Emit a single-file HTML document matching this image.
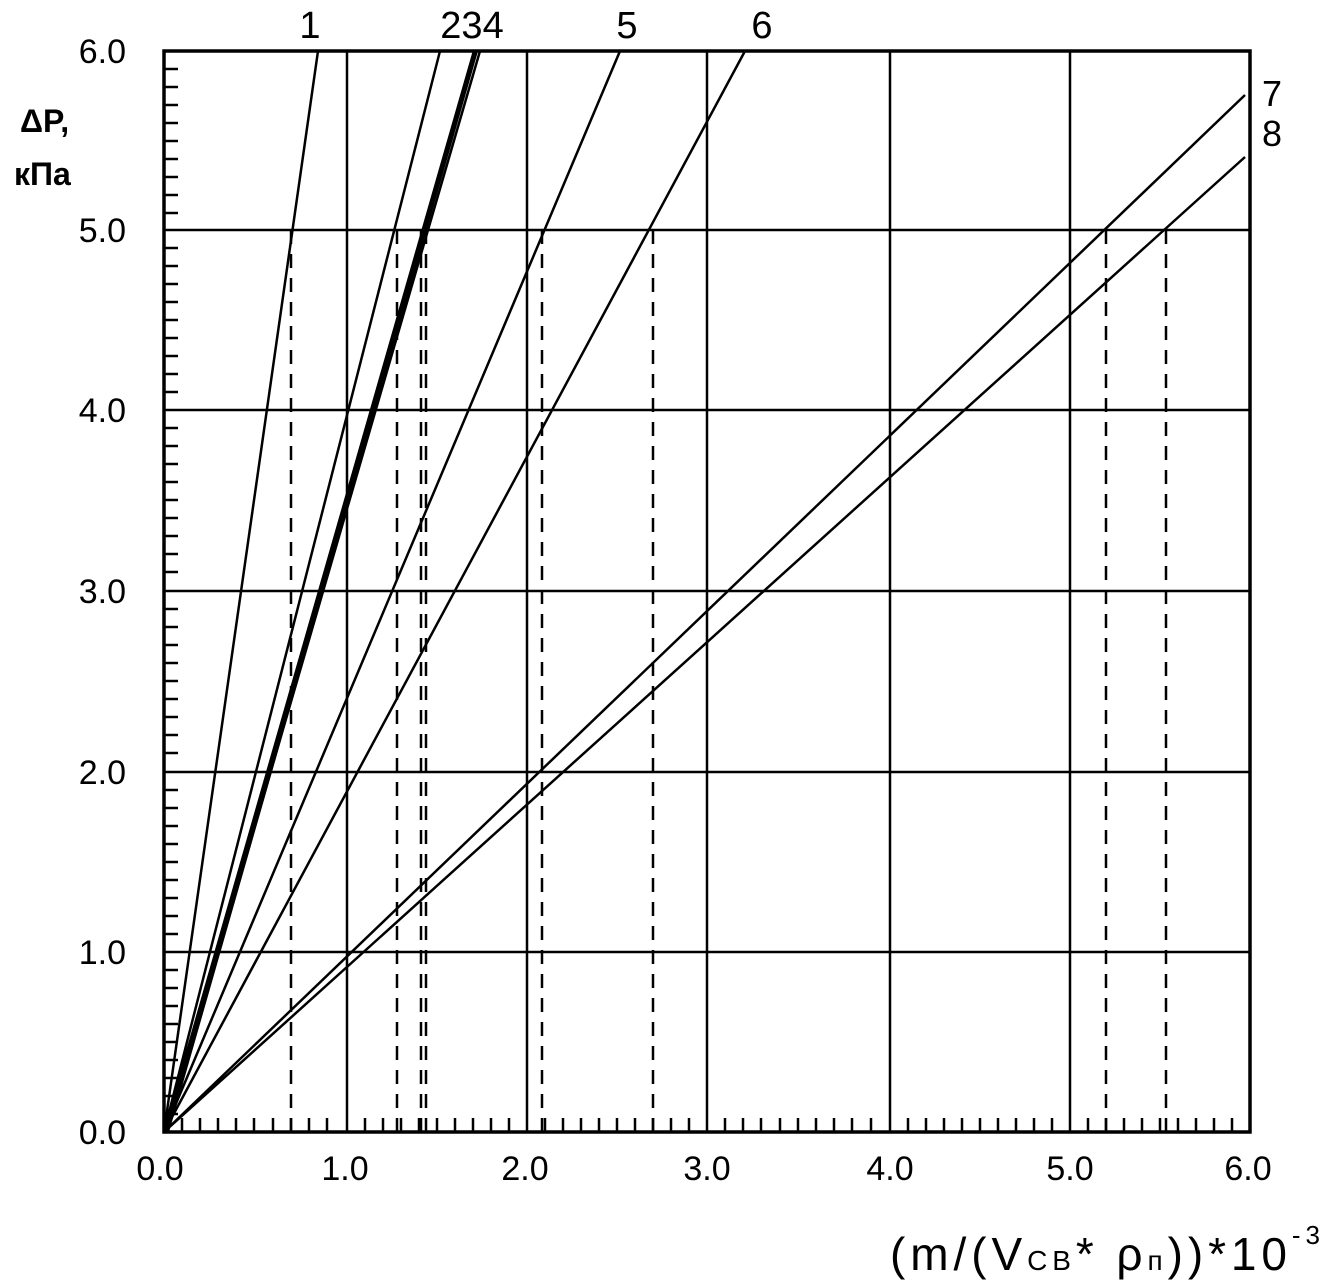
<!DOCTYPE html>
<html><head><meta charset="utf-8"><style>body{margin:0;background:#fff}svg{display:block}</style></head><body>
<svg width="1335" height="1281" viewBox="0 0 1335 1281" xmlns="http://www.w3.org/2000/svg" font-family="Liberation Sans, DejaVu Sans, sans-serif">
<rect width="1335" height="1281" fill="#fff"/>
<g stroke="#000" stroke-width="2.5" fill="none">
<path d="M347 51V1132M527 51V1132M707 51V1132M890 51V1132M1070 51V1132M164 230H1250M164 410H1250M164 591H1250M164 772H1250M164 952H1250"/>
<rect x="164" y="51" width="1086" height="1081" stroke-width="3.5"/>
</g>
<g stroke="#000" stroke-width="2.5">
<path d="M164 69h14M164 87h14M164 105h14M164 123h14M164 141h14M164 159h14M164 177h14M164 195h14M164 213h14M164 248h14M164 266h14M164 284h14M164 302h14M164 320h14M164 338h14M164 356h14M164 374h14M164 392h14M164 428h14M164 446h14M164 464h14M164 482h14M164 500h14M164 518h14M164 536h14M164 554h14M164 572h14M164 609h14M164 627h14M164 645h14M164 663h14M164 681h14M164 699h14M164 717h14M164 735h14M164 753h14M164 790h14M164 808h14M164 826h14M164 844h14M164 862h14M164 880h14M164 898h14M164 916h14M164 934h14M164 970h14M164 988h14M164 1006h14M164 1024h14M164 1042h14M164 1060h14M164 1078h14M164 1096h14M164 1114h14"/>
<path d="M182 1132v-14M200 1132v-14M218 1132v-14M236 1132v-14M254 1132v-14M273 1132v-14M291 1132v-14M309 1132v-14M327 1132v-14M365 1132v-14M383 1132v-14M401 1132v-14M419 1132v-14M437 1132v-14M455 1132v-14M473 1132v-14M491 1132v-14M509 1132v-14M545 1132v-14M563 1132v-14M581 1132v-14M599 1132v-14M617 1132v-14M635 1132v-14M653 1132v-14M671 1132v-14M689 1132v-14M725 1132v-14M743 1132v-14M761 1132v-14M780 1132v-14M798 1132v-14M816 1132v-14M834 1132v-14M852 1132v-14M871 1132v-14M908 1132v-14M926 1132v-14M944 1132v-14M962 1132v-14M980 1132v-14M998 1132v-14M1016 1132v-14M1034 1132v-14M1052 1132v-14M1088 1132v-14M1106 1132v-14M1124 1132v-14M1142 1132v-14M1160 1132v-14M1178 1132v-14M1196 1132v-14M1214 1132v-14M1232 1132v-14"/>
</g>
<g stroke="#000" stroke-width="2.5" fill="none">
<path d="M164 1132L318 51M164 1132L440 51M164 1132L474 51M166 1132L480 51M164 1132L620 51M164 1132L745 51M164 1132L1245 95M164 1132L1245 157"/>
<path d="M167 1132L476 51" stroke-width="4"/>
</g>
<g stroke="#000" stroke-width="2.5" stroke-dasharray="14 10" fill="none">
<path d="M291 230V1132M397 230V1132M421 230V1132M426 230V1132M542 230V1132M653 230V1132M1106 230V1132M1166 230V1132"/>
</g>
<g font-size="34" fill="#000" text-anchor="end">
<text x="126" y="63">6.0</text><text x="126" y="242">5.0</text><text x="126" y="422">4.0</text><text x="126" y="603">3.0</text><text x="126" y="784">2.0</text><text x="126" y="964">1.0</text><text x="126" y="1144">0.0</text>
</g>
<g font-size="34" fill="#000" text-anchor="middle">
<text x="160" y="1180">0.0</text><text x="345" y="1180">1.0</text><text x="525" y="1180">2.0</text><text x="707" y="1180">3.0</text><text x="890" y="1180">4.0</text><text x="1070" y="1180">5.0</text><text x="1248" y="1180">6.0</text>
</g>
<g font-size="38" fill="#000" text-anchor="middle">
<text x="310" y="38">1</text><text x="472" y="38">234</text><text x="627" y="38">5</text><text x="762" y="38">6</text>
</g>
<g font-size="36" fill="#000">
<text x="1262" y="106">7</text><text x="1262" y="146">8</text>
<text x="20" y="132" font-weight="bold" font-size="32">ΔP,</text><text x="14" y="185" font-weight="bold" font-size="32">кПа</text>
<text x="890" y="1270" font-size="46" textLength="430">(m/(V<tspan font-size="28">CB</tspan>* ρ<tspan font-size="28">п</tspan>))*10<tspan font-size="26" dy="-26">-3</tspan></text>
</g>
</svg>
</body></html>
